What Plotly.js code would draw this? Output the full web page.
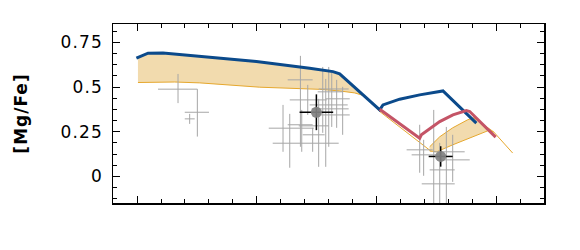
<!DOCTYPE html>
<html><head><meta charset="utf-8">
<script src="https://cdn.plot.ly/plotly-3.0.1.min.js"></script>
<style>html,body{margin:0;padding:0;background:#fff}#c{width:580px;height:250px}
.ytick text{letter-spacing:1.2px}
.g-ytitle text{letter-spacing:1px}</style>
</head><body><div id="c"></div>
<script>
// Model tracks
var blueX = [-0.005, 0.092, 0.217, 0.467, 0.995, 1.439, 1.633, 1.689, 2.023, 2.050, 2.189, 2.356, 2.537, 2.550, 2.828];
var blueY = [0.661, 0.689, 0.690, 0.674, 0.642, 0.605, 0.586, 0.573, 0.372, 0.400, 0.432, 0.456, 0.478, 0.478, 0.298];
var redX = [2.023, 2.356, 2.370, 2.523, 2.633, 2.745, 2.773, 2.989];
var redY = [0.376, 0.214, 0.233, 0.307, 0.344, 0.368, 0.363, 0.220];
// Shaded band 1 (upper edge then lower edge back)
var band1X = [0.008, 0.092, 0.217, 0.467, 0.995, 1.439, 1.633, 1.689, 1.900, 1.814, 1.689, 1.523, 1.023, 0.523, 0.314, 0.106, 0.023, 0.008];
var band1Y = [0.661, 0.689, 0.690, 0.674, 0.642, 0.605, 0.586, 0.573, 0.450, 0.467, 0.478, 0.487, 0.499, 0.523, 0.528, 0.527, 0.525, 0.525];
// thin lower edge continuing between the bands
var edgeX = [1.900, 2.023, 2.453];
var edgeY = [0.450, 0.363, 0.140];
// Shaded band 2
var band2X = [2.439, 2.523, 2.631, 2.756, 2.806, 2.906, 2.973, 2.922, 2.773, 2.631, 2.498, 2.439];
var band2Y = [0.166, 0.222, 0.272, 0.317, 0.328, 0.283, 0.249, 0.255, 0.216, 0.177, 0.138, 0.143];
var tailX = [2.973, 3.131];
var tailY = [0.249, 0.131];
// Individual stars (grey crosses): centre and error-bar ends
var starX   = [0.342, 0.503, 0.439, 1.362, 1.217, 1.273, 1.373, 1.423, 1.514, 1.573, 1.548, 1.598, 1.623, 1.664, 1.714, 1.464, 2.356, 2.389, 2.473, 2.578, 2.631, 2.523];
var starY   = [0.488, 0.359, 0.322, 0.540, 0.270, 0.186, 0.289, 0.428, 0.283, 0.489, 0.473, 0.434, 0.400, 0.378, 0.344, 0.233, 0.149, 0.121, -0.041, 0.138, 0.093, 0.037];
var starXlo = [0.175, 0.398, 0.398, 1.256, 1.098, 1.131, 1.256, 1.273, 1.348, 1.514, 1.506, 1.573, 1.439, 1.456, 1.498, 1.381, 2.247, 2.289, 2.373, 2.473, 2.523, 2.439];
var starXhi = [0.503, 0.600, 0.481, 1.464, 1.473, 1.681, 1.464, 1.581, 1.598, 1.764, 1.714, 1.773, 1.756, 1.764, 1.773, 1.564, 2.464, 2.523, 2.648, 2.731, 2.773, 2.648];
var starYlo = [0.410, 0.223, 0.294, 0.166, 0.138, 0.049, 0.138, 0.344, 0.054, 0.054, 0.244, 0.166, 0.277, 0.272, 0.233, 0.138, 0.021, 0.004, -0.160, -0.160, -0.030, -0.160];
var starYhi = [0.573, 0.488, 0.350, 0.674, 0.400, 0.350, 0.372, 0.512, 0.434, 0.545, 0.612, 0.612, 0.579, 0.540, 0.501, 0.272, 0.289, 0.205, 0.372, 0.277, 0.233, 0.188];
// Mean values (big grey dots)
var meanX = [1.495, 2.531];
var meanY = [0.359, 0.112];
var meanXerr = [0.140, 0.100];
var meanYerr = [0.100, 0.057];
// Axis ticks
var yTickVals = [0, 0.25, 0.5, 0.75];
var yTickText = ['0', '0.25', '0.5', '0.75'];

function diff(a, b) { return a.map(function (v, i) { return v - b[i]; }); }

var fillCol = 'rgba(236,204,140,0.7)';
var edgeCol = '#e6a82e';
var traces = [
  {x: band1X, y: band1Y, mode: 'lines', fill: 'toself', fillcolor: fillCol, line: {color: 'rgba(0,0,0,0)', width: 0}, hoverinfo: 'skip'},
  {x: band1X.slice(8), y: band1Y.slice(8), mode: 'lines', line: {color: edgeCol, width: 1}},
  {x: edgeX, y: edgeY, mode: 'lines', line: {color: edgeCol, width: 1}},
  {x: band2X, y: band2Y, mode: 'lines', fill: 'toself', fillcolor: fillCol, line: {color: edgeCol, width: 1}},
  {x: tailX, y: tailY, mode: 'lines', line: {color: edgeCol, width: 1}},
  {x: starX, y: starY, mode: 'markers', marker: {size: 1, color: 'rgba(0,0,0,0)'},
   error_x: {type: 'data', symmetric: false, array: diff(starXhi, starX), arrayminus: diff(starX, starXlo), color: '#a6a6a6', thickness: 1, width: 0},
   error_y: {type: 'data', symmetric: false, array: diff(starYhi, starY), arrayminus: diff(starY, starYlo), color: '#a6a6a6', thickness: 1, width: 0}},
  {x: blueX, y: blueY, mode: 'lines', line: {color: '#0b4a8b', width: 3}},
  {x: redX, y: redY, mode: 'lines', line: {color: '#c45466', width: 3}},
  {x: meanX, y: meanY, mode: 'markers', marker: {size: 11, color: 'rgba(128,128,128,0.92)'},
   error_x: {type: 'data', array: meanXerr, color: '#000', thickness: 1.5, width: 0},
   error_y: {type: 'data', array: meanYerr, color: '#000', thickness: 1.5, width: 0}}
];

var layout = {
  width: 580, height: 250,
  margin: {l: 113, r: 36, t: 24, b: 47},
  paper_bgcolor: '#fff', plot_bgcolor: '#fff',
  showlegend: false,
  font: {family: 'DejaVu Sans', color: '#000'},
  xaxis: {range: [-0.2, 3.392], tick0: 0, dtick: 1, ticks: 'inside', ticklen: 7, tickwidth: 1, tickcolor: '#000',
          showticklabels: false, showgrid: false, zeroline: false, showline: true, linecolor: '#000', linewidth: 1.5, mirror: 'allticks',
          minor: {dtick: 0.2, ticks: 'inside', ticklen: 4, tickwidth: 1, tickcolor: '#000', showgrid: false}},
  yaxis: {range: [-0.148, 0.852], tickvals: yTickVals, ticktext: yTickText, ticks: 'inside', ticklen: 7, tickwidth: 1, tickcolor: '#000',
          tickfont: {size: 17, family: 'DejaVu Sans'}, ticklabelstandoff: 5, showgrid: false, zeroline: false, showline: true, linecolor: '#000', linewidth: 1.5, mirror: 'allticks',
          minor: {dtick: 0.0625, ticks: 'inside', ticklen: 4, tickwidth: 1, tickcolor: '#000', showgrid: false},
          title: {text: '<b>[Mg/Fe]</b>', font: {size: 17, family: 'DejaVu Sans'}, standoff: 28}}
};
Plotly.newPlot('c', traces, layout, {staticPlot: true, displayModeBar: false});
</script></body></html>
